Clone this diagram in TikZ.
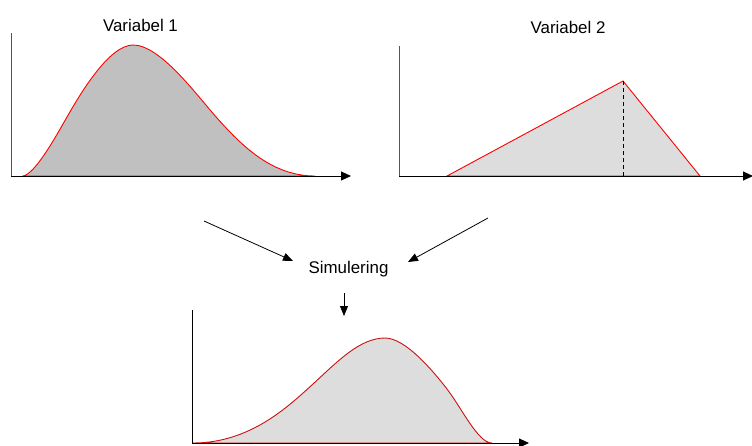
\documentclass[tikz,border=0pt]{standalone}
\usepackage{fontspec}
\setmainfont{Liberation Sans}
\usetikzlibrary{arrows.meta}
\definecolor{fillA}{HTML}{C0C0C0}
\definecolor{fillB}{HTML}{DDDDDD}
\definecolor{axgray}{HTML}{555555}
\definecolor{curvered}{HTML}{FF0000}
\definecolor{darkred}{HTML}{CC1010}
\begin{document}
\begin{tikzpicture}[x=1pt,y=-1pt,
  lbl/.style={anchor=base,inner sep=0pt,font=\fontsize{16.9}{20}\selectfont},
  axis/.style={line width=0.9pt,-{Triangle[length=10pt,width=9pt]}},
  yax/.style={line width=0.9pt,draw=axgray},
  curve/.style={draw=curvered,line width=0.9pt},
  flow/.style={line width=0.8pt,-{Triangle[length=10pt,width=8pt]}}]
\useasboundingbox (0,0) rectangle (752,445);
% ---- chart 1
\coordinate (o1) at (11,176);
\coordinate (y1) at (11,33);
\coordinate (x1) at (351,176);
\filldraw[fill=fillA,curve] (23,176) .. controls (35,174) and (55,138) .. (67,117)
  .. controls (82,90.5) and (110,45) .. (133,45)
  .. controls (160,45) and (195,93) .. (217,118)
  .. controls (242,146) and (272,176) .. (315,176) -- cycle;
\draw[yax] (y1) -- (o1);
\draw[axis] (o1) -- (x1);
\node[lbl] (t1) at (140.5,31) {Variabel 1};
% ---- chart 2
\coordinate (o2) at (399,176);
\coordinate (y2) at (399,46);
\coordinate (x2) at (753,176);
\coordinate (pk) at (623,81);
\coordinate (pkb) at (623,176);
\filldraw[fill=fillB,curve] (447,176) -- (pk) -- (700,176) -- cycle;
\draw[dashed,dash pattern=on 4pt off 3pt,line width=0.8pt] (pk) -- (pkb);
\draw[yax] (y2) -- (o2);
\draw[axis] (o2) -- (x2);
\node[lbl] (t2) at (568,33) {Variabel 2};
% ---- simulation
\node[lbl] (sim) at (348.5,273.5) {Simulering};
\coordinate (a1s) at (204,221);
\coordinate (a1e) at (293,261);
\coordinate (a2s) at (488,218);
\coordinate (a2e) at (408,262);
\coordinate (a3s) at (344,293);
\coordinate (a3e) at (344,316);
\draw[flow] (a1s) -- (a1e);
\draw[flow] (a2s) -- (a2e);
\draw[flow] (a3s) -- (a3e);
% ---- chart 3
\coordinate (o3) at (192,443);
\coordinate (y3) at (192,310);
\coordinate (x3) at (529,443);
\filldraw[fill=fillB,curve,draw=darkred] (193,443) .. controls (250,443) and (288,406.75) .. (313,384)
  .. controls (338,361) and (360,338) .. (385,338)
  .. controls (405,338) and (432,369.5) .. (447,389)
  .. controls (462,408.5) and (478,443) .. (492,443) -- cycle;
\draw[line width=0.9pt] (y3) -- (o3);
\draw[axis] (o3) -- (x3);
\end{tikzpicture}
\end{document}
